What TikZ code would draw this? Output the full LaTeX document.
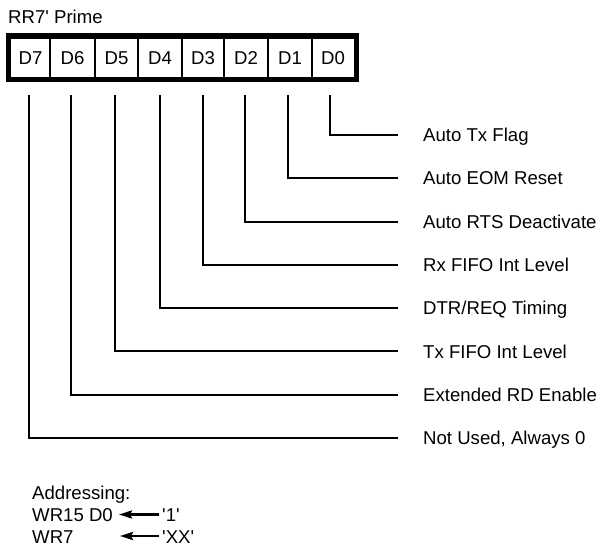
\documentclass[tikz,border=0pt]{standalone}
\usepackage{fontspec}
\setmainfont{Liberation Sans}[Ligatures=TeXOff]
\usetikzlibrary{arrows.meta}
\begin{document}
\begin{tikzpicture}[x=1pt,y=-1pt,
  txt/.style={inner sep=0pt, font=\fontsize{18.6}{21}\selectfont},
  lbl/.style={txt, anchor=base west},
  cell/.style={txt, anchor=base},
  frame/.style={line width=5.5pt},
  divider/.style={line width=1.8pt},
  wire/.style={line width=2pt},
  arr/.style={line width=2.5pt, -{Stealth[length=13pt,width=8pt,inset=2pt]}}]
\useasboundingbox (0,0) rectangle (603,548);
% title
\node[lbl] (title) at (8,24) {RR7' Prime};
% register
\draw[frame] (8.5,36) rectangle (356.5,79.5);
\foreach \x in {50,95,138,182,224,268,312}
  \draw[divider] (\x,36) -- (\x,79.5);
\node[cell] (c7) at (30.5,64.8) {D7};
\node[cell] (c6) at (72.5,64.8) {D6};
\node[cell] (c5) at (116.5,64.8) {D5};
\node[cell] (c4) at (160,64.8) {D4};
\node[cell] (c3) at (203,64.8) {D3};
\node[cell] (c2) at (246,64.8) {D2};
\node[cell] (c1) at (290,64.8) {D1};
\node[cell] (c0) at (333,64.8) {D0};
% bit lines and labels
\foreach \i/\x/\t in {0/330/{Auto Tx Flag},
                      1/288/{Auto EOM Reset},
                      2/245/{Auto RTS Deactivate},
                      3/203/{Rx FIFO Int Level},
                      4/160/{DTR/REQ Timing},
                      5/115/{Tx FIFO Int Level},
                      6/71/{Extended RD Enable},
                      7/29/{Not Used, Always 0}} {
  \pgfmathsetmacro{\yy}{135+43.3*\i}
  \coordinate (t\i) at (\x,95);
  \coordinate (e\i) at (398,\yy);
  \node[lbl] (l\i) at (423,\yy+6.6) {\t};
  \draw[wire] (t\i) |- (e\i);
}
% addressing
\node[lbl] (addr) at (32,499) {Addressing:};
\node[lbl] (wr15) at (32,521) {WR15 D0};
\node[lbl] (wr7) at (32,543) {WR7};
\node[lbl] (v1) at (162,521) {'1'};
\node[lbl] (vxx) at (162,543) {'XX'};
\coordinate (a1s) at (159,514.5);
\coordinate (a1e) at (119,514.5);
\coordinate (a2s) at (159,536);
\coordinate (a2e) at (120,536);
\draw[arr] (a1s) -- (a1e);
\draw[arr] (a2s) -- (a2e);
\end{tikzpicture}
\end{document}
